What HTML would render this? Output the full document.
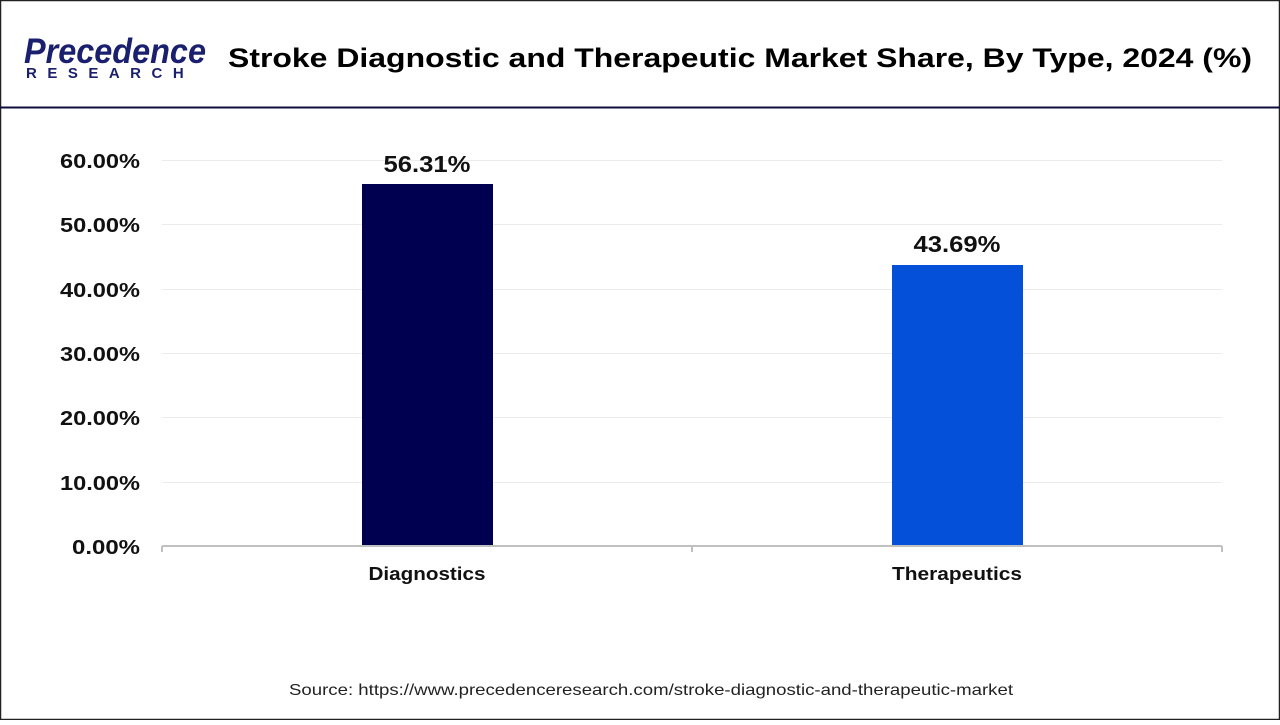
<!DOCTYPE html>
<html><head><style>
body{margin:0;background:#fff;}
</style></head><body>
<svg width="1280" height="720" xmlns="http://www.w3.org/2000/svg" font-family="Liberation Sans, Arial, sans-serif">
<rect x="0.5" y="0.5" width="1279" height="719" fill="#fff" stroke="#222" stroke-width="1.5"/>
<line x1="0" y1="107.5" x2="1280" y2="107.5" stroke="#0d0d3a" stroke-width="2"/>
<text x="24" y="63" font-size="35" fill="#1a1f6e" font-weight="bold" font-style="italic" textLength="182" lengthAdjust="spacingAndGlyphs">Precedence</text>
<text x="26" y="78" font-size="15" fill="#1a1f6e" font-weight="bold" letter-spacing="10.5">RESEARCH</text>
<text x="228" y="67" font-size="27" font-weight="bold" fill="#000" textLength="1024" lengthAdjust="spacingAndGlyphs">Stroke Diagnostic and Therapeutic Market Share, By Type, 2024 (%)</text>
<g stroke="#ececec" stroke-width="1">
<line x1="162" x2="1222" y1="160.5" y2="160.5"/><line x1="162" x2="1222" y1="224.5" y2="224.5"/>
<line x1="162" x2="1222" y1="289.5" y2="289.5"/><line x1="162" x2="1222" y1="353.5" y2="353.5"/>
<line x1="162" x2="1222" y1="417.5" y2="417.5"/><line x1="162" x2="1222" y1="482.5" y2="482.5"/>
</g>
<g font-size="20" font-weight="bold" fill="#111" text-anchor="end">
<text x="140" y="168" textLength="80" lengthAdjust="spacingAndGlyphs">60.00%</text><text x="140" y="232" textLength="80" lengthAdjust="spacingAndGlyphs">50.00%</text><text x="140" y="297" textLength="80" lengthAdjust="spacingAndGlyphs">40.00%</text>
<text x="140" y="361" textLength="80" lengthAdjust="spacingAndGlyphs">30.00%</text><text x="140" y="425" textLength="80" lengthAdjust="spacingAndGlyphs">20.00%</text><text x="140" y="490" textLength="80" lengthAdjust="spacingAndGlyphs">10.00%</text>
<text x="140" y="554" textLength="68" lengthAdjust="spacingAndGlyphs">0.00%</text>
</g>
<rect x="362" y="184" width="131" height="362" fill="#000050"/>
<rect x="892" y="265" width="131" height="281" fill="#0550d8"/>
<g stroke="#c0c0c0" stroke-width="2"><line x1="162" x2="1222" y1="546" y2="546"/>
<line x1="162" x2="162" y1="546" y2="552"/><line x1="692" x2="692" y1="546" y2="552"/><line x1="1222" x2="1222" y1="546" y2="552"/></g>
<g font-size="23" font-weight="bold" fill="#111" text-anchor="middle">
<text x="427" y="172" textLength="87" lengthAdjust="spacingAndGlyphs">56.31%</text><text x="957" y="252" textLength="87" lengthAdjust="spacingAndGlyphs">43.69%</text></g>
<g font-size="18" font-weight="bold" fill="#111" text-anchor="middle">
<text x="427" y="580" textLength="117" lengthAdjust="spacingAndGlyphs">Diagnostics</text><text x="957" y="580" textLength="130" lengthAdjust="spacingAndGlyphs">Therapeutics</text></g>
<text x="651" y="695" font-size="16" fill="#222" text-anchor="middle" textLength="724" lengthAdjust="spacingAndGlyphs">Source: https://www.precedenceresearch.com/stroke-diagnostic-and-therapeutic-market</text>
</svg>
</body></html>
